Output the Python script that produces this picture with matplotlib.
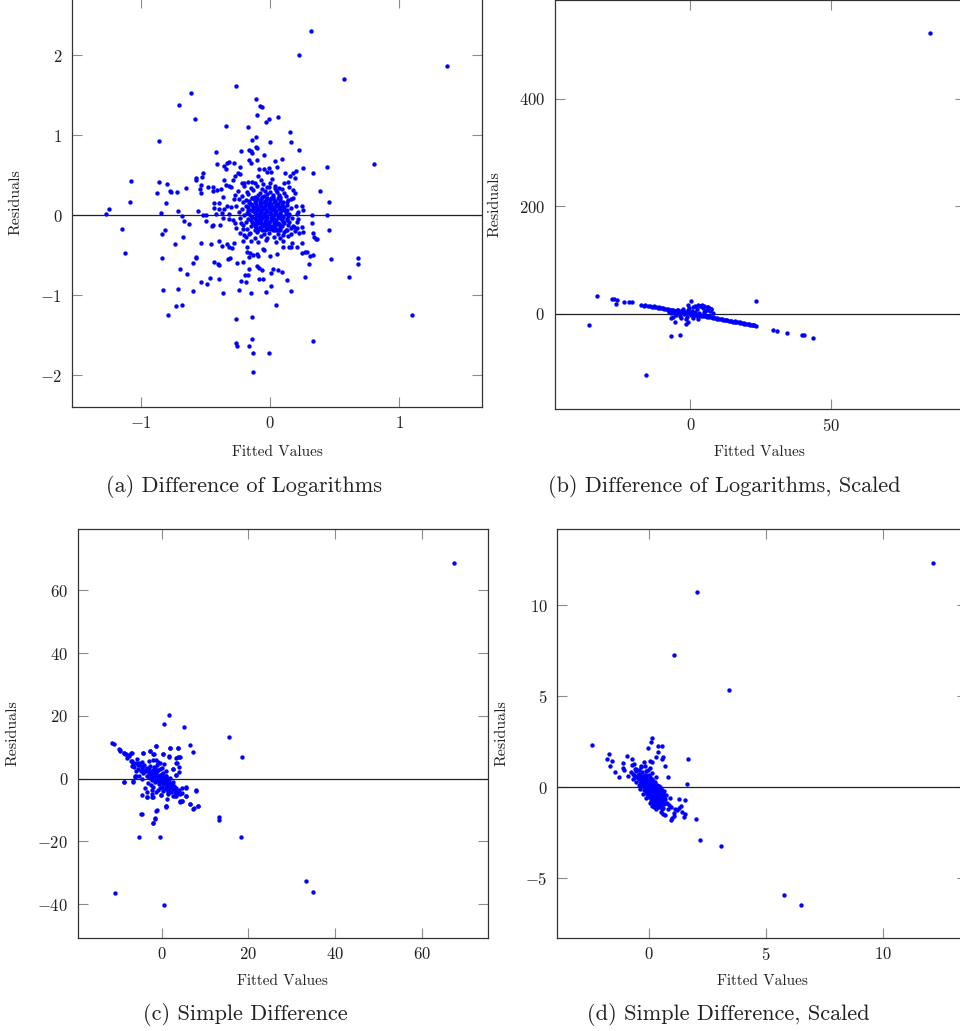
import matplotlib
matplotlib.use("Agg")
import matplotlib.pyplot as plt

plt.rcParams['font.family'] = ['cmr10', 'DejaVu Serif']
plt.rcParams['mathtext.fontset'] = 'cm'
plt.rcParams['axes.formatter.use_mathtext'] = True
plt.rcParams['axes.unicode_minus'] = True

# ---------------- data: (a) Difference of Logarithms ----------------
a_x = [0.315, 0.227, 1.375, 0.571, -0.266, -0.615, -0.705, -0.106, -0.078, -0.065, -0.579, -0.101, -0.005,
       0.062, -0.028, -0.863, 0.809, -1.075, -0.860, -0.796, -0.873, -0.778, -1.085, -0.809, -1.274, -1.245,
       -0.845, -1.150, -1.121, -0.835, -0.811, -0.840, -0.829, -0.793, -0.261, -0.258, -0.142, -0.160,
       -0.129, -0.010, -0.129, 0.336, 1.098,
       -0.419, -0.225, -0.163, -0.137, -0.111, -0.109, -0.098, -0.150, -0.142, -0.047, 0.0, 0.036, 0.090,
       0.052, 0.225, 0.155, 0.160, -0.171, -0.344, -0.413, -0.336, -0.315, -0.279, -0.354, -0.344, -0.230,
       -0.165, -0.103, -0.150, -0.088, -0.044, -0.008, -0.023, 0.010, 0.116, 0.181, 0.202, 0.258, 0.336,
       0.442, 0.196, 0.142, 0.158, -0.522, -0.527, -0.571, -0.571, -0.483, -0.537, -0.537, -0.540, -0.654,
       -0.724, -0.770, -0.444, -0.439, -0.413, -0.382, -0.359, -0.341, -0.318, -0.300, -0.289, -0.269,
       -0.251, -0.233, -0.220, -0.202, -0.168, -0.142, -0.116, -0.090, -0.070, -0.057, -0.026, 0.0, 0.016,
       0.041, 0.067, 0.111, 0.150, 0.181, 0.194, 0.163, 0.134, 0.080, 0.052, 0.026, 0.390, 0.455, 0.245,
       0.258, 0.207, 0.214, 0.439, 0.326, 0.323, 0.336, 0.354, 0.455, -0.432, -0.437, -0.395, -0.395,
       -0.362, -0.359, -0.336, -0.372, -0.419, -0.496, -0.517, -0.558, -0.713, -0.682, -0.667, -0.625,
       -0.496, -0.450, -0.439, -0.388, -0.362, -0.315, -0.274, -0.225, -0.212, -0.202, -0.155, -0.111,
       -0.090, -0.026, 0.016, 0.052, 0.080, 0.103, 0.132, 0.160, 0.186, 0.212, 0.258, 0.251, 0.225,
       -0.677, -0.739, -0.535, -0.457, -0.393, -0.370, -0.333, -0.320, -0.295, -0.276, -0.212, -0.181,
       -0.181, -0.155, -0.165, -0.132, -0.103, -0.093, -0.057, -0.044, 0.0, 0.052, 0.098, 0.147, 0.160,
       0.173, 0.212, 0.248, 0.248, 0.274, 0.289, 0.310, 0.331, 0.305, 0.362, 0.341, -0.574, -0.599, -0.576,
       -0.432, -0.401, -0.393, -0.323, -0.310, -0.256, -0.212, -0.165, -0.098, -0.083, -0.062, 0.005,
       0.065, 0.093, 0.023, 0.271, 0.470, 0.612, 0.680, 0.680, -0.700, -0.643, -0.532, -0.486, -0.463,
       -0.398, -0.222, -0.191, -0.168, -0.186, -0.083, -0.054, 0.010, 0.129, -0.711, -0.599, -0.367,
       -0.238, -0.147, -0.028, 0.160, 0.047, -0.731, -0.680, -0.261, -0.140,
       -0.20, -0.15, -0.10, -0.06, -0.01, 0.04, 0.09, -0.25, -0.18, -0.13, -0.08, -0.04, 0.00, 0.05, 0.11,
       -0.27, -0.22, -0.17, -0.12, -0.09, -0.05, -0.02, 0.02, 0.07, 0.12, -0.24, -0.19, -0.14, -0.11,
       -0.07, -0.03, 0.01, 0.04, 0.08, 0.14, -0.21, -0.16, -0.12, -0.08, -0.05, -0.01, 0.03, 0.06, 0.10,
       -0.26, -0.19, -0.14, -0.10, -0.07, -0.04, -0.01, 0.02, 0.05, 0.09, 0.13, -0.22, -0.17, -0.12,
       -0.09, -0.06, -0.03, 0.00, 0.03, 0.07, 0.11, 0.16, -0.24, -0.18, -0.13, -0.10, -0.07, -0.04,
       -0.02, 0.01, 0.04, 0.08, 0.12, -0.20, -0.15, -0.11, -0.08, -0.05, -0.03, 0.00, 0.02, 0.06, 0.10,
       0.15, -0.23, -0.17, -0.12, -0.09, -0.06, -0.03, 0.01, 0.04, 0.08, 0.13, 0.17, -0.19, -0.14, -0.10,
       -0.07, -0.04, -0.01, 0.03, 0.06, 0.10, 0.15, -0.21, -0.15, -0.11, -0.06, -0.02, 0.02, 0.05, 0.09,
       0.14, 0.18, -0.18, -0.12, -0.08, -0.04, 0.00, 0.04, 0.08, 0.12, -0.23, -0.16, -0.10, -0.05,
       -0.01, 0.06, 0.11, 0.16, -0.19, -0.12, -0.07, -0.02, 0.03, 0.08, 0.14, -0.15, -0.09, -0.03, 0.05,
       0.10]
a_y = [2.30, 2.00, 1.86, 1.70, 1.61, 1.53, 1.38, 1.45, 1.37, 1.35, 1.20, 1.25, 1.20, 1.23, 1.16, 0.93,
       0.64, 0.43, 0.41, 0.39, 0.28, 0.30, 0.17, 0.15, 0.02, 0.075, 0.03, -0.17, -0.47, -0.24, -0.19,
       -0.53, -0.93, -1.25, -1.60, -1.63, -1.55, -1.63, -1.725, -1.72, -1.96, -1.57, -1.25,
       0.796, 0.804, 0.817, 0.942, 0.983, 0.858, 0.838, 0.804, 0.775, 0.754, 0.921, 0.683, 0.70, 0.608,
       0.817, 1.046, 0.921, 1.108, 1.117, 0.638, 0.65, 0.663, 0.65, 0.621, 0.575, 0.608, 0.692, 0.692,
       0.65, 0.575, 0.575, 0.588, 0.546, 0.546, 0.525, 0.533, 0.558, 0.588, 0.533, 0.60, 0.471, 0.421,
       0.492, 0.533, 0.475, 0.467, 0.4375, 0.358, 0.379, 0.283, 0.333, 0.346, 0.296, 0.296, 0.35, 0.308,
       0.317, 0.325, 0.4375, 0.379, 0.367, 0.358, 0.442, 0.496, 0.525, 0.517, 0.40, 0.408, 0.417, 0.421,
       0.408, 0.492, 0.442, 0.3875, 0.358, 0.40, 0.458, 0.3375, 0.3375, 0.40, 0.358, 0.317, 0.275, 0.20,
       0.171, 0.233, 0.296, 0.254, 0.308, 0.171, 0.117, 0.067, 0.017, -0.046, 0.004, 0.004, -0.10,
       -0.225, -0.296, -0.1875, 0.15, 0.0875, 0.15, 0.075, 0.233, 0.075, 0.117, 0.033, 0.0125, 0.004,
       0.008, 0.058, 0.058, -0.004, -0.071, -0.1125, -0.071, -0.133, -0.121, -0.125, -0.0375, -0.05,
       -0.10, -0.10, -0.175, -0.246, -0.225, -0.15, -0.183, -0.142, -0.1625, -0.183, -0.183, -0.246,
       -0.183, -0.1625, -0.142, -0.158, -0.204, -0.15, -0.217, -0.275, -0.358, -0.35, -0.358, -0.325,
       -0.383, -0.3625, -0.392, -0.4125, -0.35, -0.321, -0.392, -0.454, -0.475, -0.517, -0.496, -0.4875,
       -0.508, -0.425, -0.433, -0.508, -0.483, -0.40, -0.392, -0.40, -0.35, -0.392, -0.342, -0.467,
       -0.458, -0.458, -0.504, -0.496, -0.6125, -0.30, -0.267, -0.525, -0.60, -0.5375, -0.579, -0.6125,
       -0.617, -0.55, -0.5375, -0.60, -0.579, -0.671, -0.633, -0.658, -0.683, -0.717, -0.683, -0.704,
       -0.675, -0.775, -0.55, -0.767, -0.529, -0.608, -0.675, -0.733, -0.8375, -0.8625, -0.779, -0.80,
       -0.817, -0.75, -0.746, -0.829, -0.796, -0.792, -0.879, -0.8125, -0.917, -0.942, -0.967, -0.933,
       -0.967, -0.958, -0.946, -1.121, -1.1375, -1.125, -1.296, -1.275,
       0.36, 0.34, 0.37, 0.33, 0.35, 0.36, 0.33, 0.30, 0.29, 0.31, 0.28, 0.30, 0.29, 0.31, 0.28, 0.25,
       0.24, 0.26, 0.23, 0.25, 0.24, 0.26, 0.23, 0.25, 0.24, 0.20, 0.19, 0.21, 0.18, 0.20, 0.19, 0.21,
       0.18, 0.20, 0.19, 0.16, 0.15, 0.17, 0.14, 0.16, 0.15, 0.17, 0.14, 0.16, 0.12, 0.11, 0.13, 0.10,
       0.12, 0.11, 0.13, 0.10, 0.12, 0.11, 0.13, 0.08, 0.07, 0.09, 0.06, 0.08, 0.07, 0.09, 0.06, 0.08,
       0.07, 0.09, 0.04, 0.03, 0.05, 0.02, 0.04, 0.03, 0.05, 0.02, 0.04, 0.03, 0.05, 0.00, -0.01, 0.01,
       -0.02, 0.00, -0.01, 0.01, -0.02, 0.00, -0.01, 0.01, -0.04, -0.05, -0.03, -0.06, -0.04, -0.05,
       -0.03, -0.06, -0.04, -0.05, -0.03, -0.08, -0.09, -0.07, -0.10, -0.08, -0.09, -0.07, -0.10, -0.08,
       -0.09, -0.12, -0.13, -0.11, -0.14, -0.12, -0.13, -0.11, -0.14, -0.12, -0.13, -0.17, -0.18, -0.16,
       -0.19, -0.17, -0.18, -0.16, -0.19, -0.22, -0.23, -0.21, -0.24, -0.22, -0.23, -0.21, -0.24, -0.27,
       -0.28, -0.26, -0.29, -0.27, -0.28, -0.26, -0.32, -0.33, -0.31, -0.33, -0.32]
a_core_x = [-0.14, -0.10, -0.06, -0.02, 0.02, 0.06, -0.16, -0.12, -0.08, -0.04, 0.00, 0.04, 0.08,
            -0.15, -0.11, -0.07, -0.03, 0.01, 0.05, 0.09, -0.17, -0.13, -0.09, -0.05, -0.01, 0.03, 0.07,
            0.11, -0.15, -0.11, -0.07, -0.03, 0.01, 0.05, 0.09, 0.13, -0.16, -0.12, -0.08, -0.04, 0.00,
            0.04, 0.08, 0.12, -0.14, -0.10, -0.06, -0.02, 0.02, 0.06, 0.10, 0.14, -0.15, -0.11, -0.07,
            -0.03, 0.01, 0.05, 0.09, 0.13, -0.13, -0.09, -0.05, -0.01, 0.03, 0.07, 0.11, -0.12, -0.08,
            -0.04, 0.00, 0.04, 0.08, -0.10, -0.06, -0.02, 0.02, 0.06, -0.30, -0.32, -0.29, 0.20, 0.22,
            0.21, -0.28, 0.18, -0.26, 0.19]
a_core_y = [0.22, 0.215, 0.225, 0.21, 0.22, 0.215, 0.18, 0.185, 0.175, 0.18, 0.185, 0.175, 0.18,
            0.14, 0.145, 0.135, 0.14, 0.145, 0.135, 0.14, 0.10, 0.105, 0.095, 0.10, 0.105, 0.095, 0.10,
            0.105, 0.06, 0.065, 0.055, 0.06, 0.065, 0.055, 0.06, 0.065, 0.02, 0.025, 0.015, 0.02, 0.025,
            0.015, 0.02, 0.025, -0.02, -0.015, -0.025, -0.02, -0.015, -0.025, -0.02, -0.015, -0.06,
            -0.055, -0.065, -0.06, -0.055, -0.065, -0.06, -0.055, -0.10, -0.095, -0.105, -0.10, -0.095,
            -0.105, -0.10, -0.14, -0.145, -0.135, -0.14, -0.145, -0.135, -0.18, -0.185, -0.175, -0.18,
            -0.185, 0.10, 0.02, -0.06, 0.12, 0.04, -0.08, 0.20, 0.22, -0.16, -0.20]

# ---------------- data: (b) Difference of Logarithms, Scaled ----------------
b_x = [85.3, -33.3, -36.1, -28.0, -27.0, -26.1, -26.5, -23.5, -21.9, -20.6, -17.4, -16.5, 23.2, 29.5,
       30.7, 34.5, 39.8, 40.4, 43.5, -15.9, -6.9, -3.6, -7.0, -5.5, -1.5, -0.7, 0.2, -0.8, 2.8, 3.7, 5.3,
       -16.0, -15.2, -14.5, -13.8, -13.0, -12.3, -11.6, -10.9, -10.2, -9.5, -8.8, -8.1, -7.4, -6.7, -6.0,
       -5.3, -4.6, -3.9, -3.2, -2.5, -1.8, -1.1, -0.4, 0.3, 1.0, 1.7, 2.4, 3.1, 3.8, 4.5, 5.2, 5.9, 6.6,
       7.3, 8.0, 8.7, 9.4, 10.1, 10.8, 11.5, 12.2, 12.9, 13.6, 14.3, 15.0, 15.7, 16.4, 17.1, 17.8, 18.5,
       19.2, 19.9, 20.6, 21.3, 22.0, 22.7, 23.2,
       -12.8, -11.2, -9.6, -8.0, -6.4, -4.8, -3.2, -1.6, 0.0, 1.6, 3.2, 4.8, 6.4, 8.0, 9.6, 11.2, 12.8,
       14.4, 16.0, 17.6, 19.2, 20.8, 22.4,
       -7.5, -6.8, -6.0, -5.5, -5.0, -4.5, -4.0, -3.6, -3.0, -2.6, -2.2, -1.8, -1.2, -0.9, -0.5, -0.2,
       0.3, 0.6, 1.0, 1.3, 1.8, 2.2, 2.5, 3.0, 3.4, 3.9, 4.4, 4.8, 5.3, 5.8, 6.2, 6.6, 7.1, 7.5, 8.0,
       -3.3, -1.5, 0.8, 2.8, -6.3, 1.5, 4.0, 5.0, 6.0, 6.8, 7.2]
b_y = [521.5, 32.2, -21.1, 27.3, 27.3, 26.0, 18.0, 21.0, 21.0, 21.0, 16.7, 14.9, 22.9, -29.8, -31.6,
       -36.0, -40.3, -40.3, -44.7, -114.0, -41.5, -39.0, -8.7, -15.0, -19.0, -15.0, 23.0, 15.5, 16.0,
       14.0, 5.6,
       15.3, 14.5, 13.6, 13.2, 12.3, 11.8, 11.0, 10.3, 9.9, 9.0, 8.4, 7.7, 7.3, 6.3, 5.9, 5.0, 4.6, 3.6,
       3.2, 2.3, 1.9, 0.9, 0.5, -0.4, -1.1, -1.5, -2.5, -2.9, -3.8, -4.2, -5.2, -5.6, -6.5, -7.0, -7.9,
       -8.3, -9.2, -9.6, -10.6, -11.0, -11.9, -12.3, -13.2, -13.6, -14.6, -15.0, -15.9, -16.3, -17.3,
       -17.7, -18.7, -19.0, -20.0, -20.4, -21.4, -21.8, -22.5,
       14.0, 12.4, 10.9, 9.2, 7.7, 6.1, 4.5, 3.0, 1.3, -0.2, -1.8, -3.3, -4.9, -6.5, -8.1, -9.6, -11.2,
       -12.8, -14.3, -15.9, -17.5, -19.0, -20.6,
       4.0, 2.0, 6.0, 3.0, -2.0, 7.0, 1.0, -4.0, 5.0, 9.0, -1.0, 3.0, -6.0, 7.0, 11.0, 2.0, -3.0, 5.0,
       12.0, -1.0, 4.0, -5.0, 8.0, 1.0, 14.0, -3.0, 10.0, 3.0, -2.0, 7.0, 12.0, -4.0, 5.0, 9.0, 2.0,
       -8.0, -10.0, -8.0, -9.0, -6.0, 15.0, 15.5, 14.5, 13.0, 11.0, 8.0]

# ---------------- data: (c) Simple Difference ----------------
c_x = [67.4, 1.7, 0.5, 5.2, 15.5, 18.6, 6.5, 7.3, 1.9, 3.8, -1.3, -11.4, -10.9, -9.8, -9.5, -8.8, -8.5,
       -7.1, -7.6, -4.2, -2.8, -1.8, 0.2, 1.8, 3.8, 4.2, 3.3, 4.1, 2.5, 3.2, -8.8, -6.7, -6.2, -5.9, 7.9,
       5.5, 4.3, 4.7, 6.6, 7.3, 8.4, 0.9, -1.2, -4.6, -1.6, -2.0, -5.2, -0.4, 13.2, 13.2, 18.2, 33.2,
       34.8, -10.7, 0.5, -3.5, -2.2, -0.2, 1.5, 3.1, 3.5, 4.6, 5.5, -4.5, -3.3,
       -9.5, -8.6, -8.3, -7.5, -6.9, -8.0, -6.8, -6.7, -6.9, -6.4, -5.8, -5.5, -5.2, -4.6, -4.2, -4.2,
       -2.8, -1.9, -1.3, 0.3, -0.5, -0.8, 1.9, 3.8, 4.0, 3.6, 3.3, 2.5, 3.2, 4.1, 1.8, -6.2, -6.7, -8.8,
       -3.5, -2.1, -2.3, -1.3, -0.15, 0.9, 1.3, 3.3, 4.2, 4.8, 5.5, 5.5, 7.9, 4.3, 4.7, 6.5, 7.4, 8.4,
       -4.7, -1.1, -1.5, -1.9, 0.9,
       -7.0, -6.5, -6.0, -5.5, -5.0, -4.8, -4.5, -4.2, -4.0, -3.8, -3.5, -3.3, -3.0, -2.8, -2.6, -2.4,
       -2.2, -2.0, -1.8, -1.6, -1.5, -1.3, -1.1, -1.0, -0.8, -0.6, -0.5, -0.3, -0.2, 0.0, 0.1, 0.3, 0.4,
       0.6, 0.8, 0.9, 1.1, 1.2, 1.4, 1.6, 1.8, 2.0, 2.2, 2.4, 2.6, 2.9, 3.1, 3.4, 3.7, 4.0, -2.5, -3.2,
       -1.9, -0.9, 0.2, -4.5, -5.2, -6.0, -3.0, -2.0, -1.0, 0.0, 1.0, 0.5, -1.2, -0.4, 1.5, -2.2, -3.8,
       2.6]
c_y = [68.8, 20.3, 17.3, 16.4, 13.2, 6.9, 10.7, 8.6, 9.9, 9.7, 10.4, 11.3, 11.0, 9.6, 9.1, 8.3, 7.9,
       8.1, 7.2, 8.3, 8.9, 7.8, 7.8, 7.1, 7.0, 7.0, 5.0, 3.7, 3.2, 1.2, -1.2, -0.9, 0.9, 0.9, -3.8, -5.5,
       -7.3, -7.1, -8.2, -9.6, -8.8, -8.8, -10.2, -11.2, -12.8, -14.1, -18.7, -18.7, -12.3, -13.2, -18.5,
       -32.7, -36.2, -36.6, -40.2, -5.7, -6.0, -5.2, -4.7, -5.5, -5.0, -4.7, -2.9, -5.2, -4.3,
       8.9, 8.3, 7.9, 7.5, 8.1, 6.5, 5.6, 4.9, 4.1, 3.8, 6.2, 4.4, 5.1, 5.2, 4.1, 8.1, 8.8, 7.9, 10.4,
       7.8, 5.1, 5.4, 9.9, 9.7, 7.0, 5.1, 6.7, 3.2, 1.2, 2.2, 7.0, 0.4, -1.0, -1.2, -5.7, -5.7, -5.0,
       -4.1, -5.2, -8.9, -6.6, -5.4, -4.9, -3.1, -2.8, -5.5, -3.7, -7.2, -7.0, -8.1, -9.5, -8.7, -11.2,
       -10.1, -12.7, -14.0, -8.7,
       5.5, 4.5, 5.0, 3.2, 4.2, 2.5, 3.6, 1.8, 4.5, 2.9, 0.8, 3.5, 2.2, 0.2, 4.0, 1.5, -0.5, 2.8, 0.9,
       3.3, -1.2, 1.7, -0.2, 2.4, 0.5, -1.8, 1.3, 3.0, -0.8, 0.6, -2.5, 1.8, -1.3, 0.2, -3.2, -0.6, 1.0,
       -2.0, -3.8, -1.0, -2.8, 0.3, -4.2, -1.8, -3.3, -2.3, -4.6, -3.0, -4.0, -3.5, -2.0, -1.5, -2.8,
       -3.5, -4.0, 0.0, 1.0, 2.5, 5.5, 5.8, 4.5, 3.5, 2.5, 4.8, 6.0, -3.0, -5.0, -3.6, -3.0, -5.6]
c_core_x = [-3.5, -3.0, -2.5, -2.0, -1.5, -1.0, -0.5, 0.0, 0.5, 1.0, 1.5, 2.0, 2.5, 3.0, -2.8, -2.2,
            -1.7, -1.2, -0.7, -0.2, 0.3, 0.8, 1.3, 1.8, 2.3, 2.8, -4.5, -4.0, -3.2, -1.4, -0.6, 0.2,
            1.0, 1.7, 0.0, -0.8, -1.8, 0.9, 1.8, 2.6]
c_core_y = [2.5, 3.0, 2.0, 1.2, 2.0, 1.0, 0.5, -0.5, -1.0, -1.5, -2.2, -2.5, -3.0, -3.6, 1.5, 0.5,
            1.5, 0.3, -0.4, 0.2, -0.2, -0.8, -0.5, -1.5, -2.0, -2.6, 3.0, 2.0, 0.8, -0.6, -1.2, -1.6,
            -2.6, -3.4, 1.5, 2.8, 3.8, 0.8, 0.0, -1.0]

# ---------------- data: (d) Simple Difference, Scaled ----------------
d_x = [12.12, 2.04, 1.05, 3.40, -2.46, 1.67, 1.61, 2.02, 2.18, 3.06, 5.75, 6.50, -1.71, -1.79, -1.61,
       -1.68, -1.47, -1.30, -0.94, -0.74, -1.10, -1.11, -1.08, 0.10, 0.09, -0.04, 0.36, 0.53, 0.38, 0.57,
       0.54, 0.67, 0.80, 0.27, 0.03, 0.13, -0.33, -0.24, -0.57, -0.75, -0.67,
       0.87, 1.27, 1.55, 0.74, 0.83, 0.95, 1.10, 1.18, 1.35, 1.28, 1.40, 1.51, 1.48, 1.07, 1.04, 0.91,
       0.97, 0.61, 0.68, 0.50, 0.56, 0.81, 0.34, 0.28,
       -0.80, -0.65, -0.55, -0.50, -0.45, -0.40, -0.35, -0.30, -0.28, -0.25, -0.20, -0.18, -0.15, -0.12,
       -0.10, -0.08, -0.05, -0.03, 0.00, 0.02, 0.04, 0.06, 0.08, 0.10, 0.12, 0.14, 0.16, 0.18, 0.20,
       0.22, 0.24, 0.26, 0.28, 0.30, 0.32, 0.35, 0.38, 0.40, 0.43, 0.46, 0.50, 0.52, 0.55, 0.58, 0.62,
       0.66, -0.35, -0.22, -0.10, 0.00, 0.08, 0.15, 0.22, -0.45, -0.58, -0.70, -0.15, 0.00, 0.10, 0.25,
       0.35, 0.45, 0.55, -0.05, 0.12, 0.30, -0.40, -0.25, -0.12, 0.02, 0.12, 0.30, 0.40, 0.60, 0.70,
       0.72, 0.65, -0.90, -0.60, -0.35, -0.20, 0.05]
d_y = [12.33, 10.71, 7.25, 5.33, 2.33, 1.56, 0.18, -1.74, -2.91, -3.22, -5.93, -6.45, 1.85, 1.56, 1.45,
       1.15, 0.84, 0.59, 1.72, 1.56, 1.34, 1.04, 0.95, 2.69, 2.51, 2.18, 2.25, 2.27, 1.92, 1.67, 1.54,
       1.15, 0.55, 1.67, 1.47, 1.37, 1.19, 1.37, 0.99, 1.23, 1.28,
       -0.57, -0.62, -0.71, -0.84, -0.97, -1.06, -1.17, -1.25, -1.01, -1.15, -1.34, -1.47, -1.65, -1.43,
       -1.58, -1.79, -1.70, -1.45, -1.50, -1.37, -1.19, -1.17, -1.06, -0.88,
       0.85, 0.70, 0.90, 0.50, 0.75, 0.35, 0.60, 0.85, 0.20, 0.45, 0.70, 0.05, 0.30, 0.55, -0.10, 0.15,
       0.40, -0.25, 0.00, 0.25, -0.40, -0.12, 0.12, -0.55, -0.28, 0.00, -0.70, -0.42, -0.15, 0.10,
       -0.85, -0.55, -0.30, -0.05, -0.95, -0.70, -0.45, -0.20, -0.85, -0.60, -0.35, -1.00, -0.75, -0.50,
       -0.90, -0.65, 0.05, -0.15, -0.35, -0.55, -0.75, -0.95, -1.10, 0.15, 0.30, 0.45, 0.90, 0.70, 0.45,
       0.30, 0.15, 0.00, -0.15, 0.95, 0.80, 0.55, -0.10, -0.35, -0.60, -0.85, -1.05, -1.20, -1.10,
       -1.15, -0.85, -0.40, -0.20, 0.60, 1.00, 1.10, 1.15, 1.05]
d_core_x = [-0.45, -0.38, -0.32, -0.26, -0.22, -0.18, -0.15, -0.10, -0.08, -0.04, -0.02, 0.02, 0.04,
            0.07, 0.10, 0.12, 0.14, 0.17, 0.19, 0.21, 0.24, 0.26, 0.29, 0.31, 0.34, 0.36, 0.39, 0.42,
            0.45, 0.48, 0.50, 0.54, -0.30, -0.12, 0.05, -0.20, -0.05, 0.08, 0.20, 0.35, 0.45, 0.60,
            0.58, 0.40, 0.25, -0.35, -0.52, -0.60, -0.70, -0.42, 0.15, 0.00, -0.25, 0.33, 0.10, -0.15,
            0.62, 0.50]
d_core_y = [0.45, 0.50, 0.30, 0.38, 0.20, 0.45, 0.10, 0.30, 0.00, 0.20, -0.12, 0.08, -0.25, -0.02,
            -0.38, 0.15, -0.15, -0.55, -0.30, -0.05, -0.70, -0.42, -0.18, -0.80, -0.58, -0.32, -0.72,
            -0.48, -0.25, -0.85, -0.62, -0.45, 0.60, 0.65, 0.55, -0.05, -0.40, -0.60, -0.90, -1.00,
            -1.05, -0.70, -0.30, 0.05, 0.15, 0.25, 0.60, 0.55, 0.75, 0.95, 0.35, 0.35, 0.05, -0.05,
            -0.85, -0.25, -0.50, -0.10]

captions = ["(a) Difference of Logarithms", "(b) Difference of Logarithms, Scaled",
            "(c) Simple Difference", "(d) Simple Difference, Scaled"]

W, H = 960, 1031
fig = plt.figure(figsize=(W / 100, H / 100), dpi=100)


def px_axes(left, top, right, bottom):
    return fig.add_axes([left / W, 1 - bottom / H, (right - left) / W, (bottom - top) / H])


panels = [
    dict(box=(72, -2.3, 482, 406.7), x=a_x + a_core_x, y=a_y + a_core_y, xlim=(-1.535, 1.643),
         ylim=(-2.393, 2.72), xt=[-1, 0, 1], yt=[-2, -1, 0, 1, 2], ylx=-0.120, xly=-0.094,
         cap=(244, 486)),
    dict(box=(554.7, 0, 964.7, 409), x=b_x, y=b_y, xlim=(-48.2, 97.5), ylim=(-177.3, 583.6),
         xt=[0, 50], yt=[0, 200, 400], ylx=-0.1285, xly=-0.088, cap=(724, 486)),
    dict(box=(78, 529, 487.7, 938), x=c_x + c_core_x, y=c_y + c_core_y, xlim=(-19.3, 75.2),
         ylim=(-50.8, 79.6), xt=[0, 20, 40, 60], yt=[-40, -20, 0, 20, 40, 60], ylx=-0.143,
         xly=-0.088, cap=(245.5, 1015)),
    dict(box=(557.3, 529, 967.3, 938), x=d_x + d_core_x, y=d_y + d_core_y, xlim=(-3.93, 13.6),
         ylim=(-8.28, 14.19), xt=[0, 5, 10], yt=[-5, 0, 5, 10], ylx=-0.118, xly=-0.088,
         cap=(728, 1015)),
]

for p, cap in zip(panels, captions):
    ax = px_axes(*p['box'])
    ax.scatter(p['x'], p['y'], s=10, color='#0000ff', linewidths=0, zorder=3)
    ax.axhline(0, color='#222222', lw=0.9, zorder=2)
    ax.set_xlim(*p['xlim'])
    ax.set_ylim(*p['ylim'])
    ax.set_xticks(p['xt'])
    ax.set_yticks(p['yt'])
    ax.tick_params(direction='in', length=7, width=0.8, color='#8c8c8c', labelsize=12,
                   top=True, right=True, labelcolor='#222222')
    ax.tick_params(axis='x', pad=6)
    ax.tick_params(axis='y', pad=7)
    for s in ax.spines.values():
        s.set_color('#333333')
        s.set_linewidth(0.9)
    ax.set_xlabel('Fitted Values', fontsize=11, color='#222222')
    ax.set_ylabel('Residuals', fontsize=11.5, color='#222222')
    ax.xaxis.set_label_coords(0.5, p['xly'])
    ax.yaxis.set_label_coords(p['ylx'], 0.5)
    cx, cy = p['cap']
    fig.text(cx / W, 1 - cy / H, cap, ha='center', va='center', fontsize=16, color='#222222')

fig.savefig('out.png', dpi=100)
